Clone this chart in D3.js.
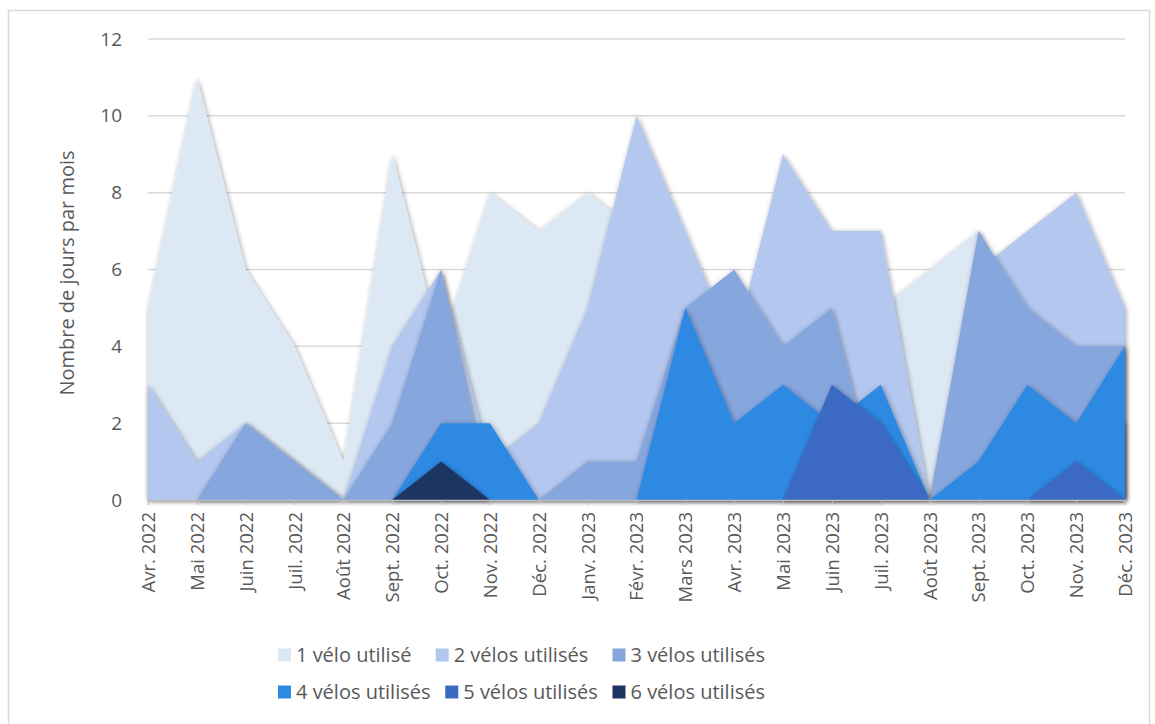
<!DOCTYPE html>
<html>
<head>
<meta charset="utf-8">
<script src="https://cdn.jsdelivr.net/npm/d3@7"></script>
<style>
    body { margin: 0; background: #fff; }
    svg { display: block; }
    text { font-family: "Open Sans", "Noto Sans", sans-serif; fill: #595959; }
</style>
</head>
<body>
<script>
// months on the x axis
const months = ["Avr. 2022", "Mai 2022", "Juin 2022", "Juil. 2022", "Août 2022", "Sept. 2022", "Oct. 2022",
    "Nov. 2022", "Déc. 2022", "Janv. 2023", "Févr. 2023", "Mars 2023", "Avr. 2023", "Mai 2023", "Juin 2023",
    "Juil. 2023", "Août 2023", "Sept. 2023", "Oct. 2023", "Nov. 2023", "Déc. 2023"];

// days per month, one list per number of bikes used
const velo1 = [5, 11, 6, 4, 1, 9, 4, 8, 7, 8, 7, 5, 4, 6, 5, 5, 6, 7, 4, 3, 2];
const velo2 = [3, 1, 2, 1, 0, 4, 6, 1, 2, 5, 10, 7, 4, 9, 7, 7, 0, 6, 7, 8, 5];
const velo3 = [0, 0, 2, 1, 0, 2, 6, 0, 0, 1, 1, 5, 6, 4, 5, 0, 0, 7, 5, 4, 4];
const velo4 = [0, 0, 0, 0, 0, 0, 2, 2, 0, 0, 0, 5, 2, 3, 2, 3, 0, 1, 3, 2, 4];
const velo5 = [0, 0, 0, 0, 0, 0, 0, 0, 0, 0, 0, 0, 0, 0, 3, 2, 0, 0, 0, 1, 0];
const velo6 = [0, 0, 0, 0, 0, 0, 1, 0, 0, 0, 0, 0, 0, 0, 0, 0, 0, 0, 0, 0, 0];

const seriesNames = ["1 vélo utilisé", "2 vélos utilisés", "3 vélos utilisés",
    "4 vélos utilisés", "5 vélos utilisés", "6 vélos utilisés"];
const colors = ["#dde8f5", "#b3c7ef", "#86a6de", "#2e89e3", "#3a69c3", "#1c3562"];
const yTicks = [0, 2, 4, 6, 8, 10, 12];

const series = [velo1, velo2, velo3, velo4, velo5, velo6];

const width = 1155, height = 724;
const svg = d3.select("body").append("svg")
    .attr("width", width)
    .attr("height", height);

// soft shadow round the areas
const filter = svg.append("defs").append("filter")
    .attr("id", "shadow")
    .attr("x", "-5%").attr("y", "-5%")
    .attr("width", "110%").attr("height", "110%");
filter.append("feDropShadow")
    .attr("dx", 1).attr("dy", 1)
    .attr("stdDeviation", 2.5)
    .attr("flood-color", "#000")
    .attr("flood-opacity", 0.38);

// chart frame
svg.append("rect")
    .attr("x", 8.5).attr("y", 10.5)
    .attr("width", 1141).attr("height", 740)
    .attr("fill", "#fff")
    .attr("stroke", "#d9d9d9")
    .attr("stroke-width", 1.5);

const xScale = d3.scalePoint()
    .domain(months)
    .range([148, 1125]);

const yScale = d3.scaleLinear()
    .domain([0, 12])
    .range([500, 39]);

// grid lines
svg.append("g")
    .selectAll("line")
    .data(yTicks.filter(d => d > 0))
    .join("line")
    .attr("x1", 148).attr("x2", 1125)
    .attr("y1", d => yScale(d)).attr("y2", d => yScale(d))
    .attr("stroke", "#d9d9d9")
    .attr("stroke-width", 1.5);

// y axis labels
const yAxis = svg.append("g")
    .attr("transform", "translate(148,0)")
    .call(d3.axisLeft(yScale).tickValues(yTicks).tickSize(0).tickPadding(26));
yAxis.select(".domain").remove();
yAxis.selectAll("text")
    .style("font-size", "19px")
    .attr("fill", "#595959");

svg.append("text")
    .attr("transform", "translate(67,273) rotate(-90)")
    .attr("text-anchor", "middle")
    .attr("dy", "0.35em")
    .style("font-size", "20px")
    .text("Nombre de jours par mois");

// areas, each one from zero, first series at the back
const area = d3.area()
    .x((d, i) => xScale(months[i]))
    .y0(yScale(0))
    .y1(d => yScale(d));

svg.append("g")
    .selectAll("path")
    .data(series)
    .join("path")
    .attr("d", area)
    .attr("fill", (d, i) => colors[i])
    .attr("filter", "url(#shadow)");

// x axis
const xAxis = svg.append("g")
    .attr("transform", "translate(0," + yScale(0) + ")")
    .call(d3.axisBottom(xScale).tickSize(5).tickPadding(8));
xAxis.select(".domain").attr("stroke", "#bfbfbf").attr("stroke-width", 1.5);
xAxis.selectAll(".tick line").attr("stroke", "#bfbfbf");
xAxis.selectAll("text")
    .attr("transform", "rotate(-90)")
    .attr("text-anchor", "end")
    .attr("x", -12)
    .attr("y", 0)
    .attr("dy", "0.35em")
    .style("font-size", "18.5px")
    .attr("fill", "#595959");

// legend, two rows stretched between the same left and right edges
const legendRows = [[0, 1, 2], [3, 4, 5]];
const legendLeft = 278, legendRight = 765;
legendRows.forEach((row, r) => {
    const y = 655 + r * 37;
    const items = row.map(i => {
        const g = svg.append("g");
        g.append("rect")
            .attr("width", 13).attr("height", 13)
            .attr("y", -6.5)
            .attr("fill", colors[i]);
        const t = g.append("text")
            .attr("x", 18)
            .attr("dy", "0.35em")
            .style("font-size", "20px")
            .text(seriesNames[i]);
        return { g: g, w: 18 + t.node().getComputedTextLength() };
    });
    const total = d3.sum(items, d => d.w);
    const gap = (legendRight - legendLeft - total) / (items.length - 1);
    let x = legendLeft;
    items.forEach(it => {
        it.g.attr("transform", "translate(" + x + "," + y + ")");
        x += it.w + gap;
    });
});
</script>
</body>
</html>
